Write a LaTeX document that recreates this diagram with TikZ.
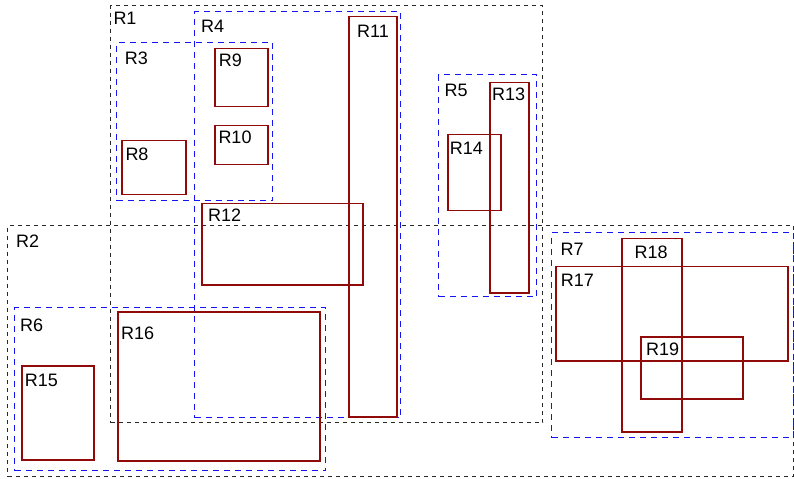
\documentclass[tikz,border=0pt]{standalone}
\usepackage{fontspec}
\setmainfont{Liberation Sans}
\definecolor{leafred}{RGB}{145,10,10}
\definecolor{grpgray}{RGB}{40,40,40}
\definecolor{subblue}{RGB}{20,20,245}
\newcommand{\myreg}[9]{%
  \node[#1,minimum width=#6bp,minimum height=#7bp] (#2) at (#4,#5) {};
  \node[lab] (#2lab) at (#8,#9) {#3};}
\begin{document}
\begin{tikzpicture}[x=1bp,y=-1bp,
  box/.style={draw,inner sep=0pt,outer sep=0pt,anchor=north west,line width=1.4bp},
  grp/.style={box,draw=grpgray,dash pattern=on 4bp off 4bp},
  sub/.style={box,draw=subblue,dash pattern=on 6bp off 5bp},
  leaf/.style={box,draw=leafred,line width=1.5bp},
  lab/.style={anchor=base west,inner sep=0pt,font=\fontsize{18bp}{21bp}\selectfont}]
\useasboundingbox (0,0) rectangle (794,479);
\myreg{grp}{r1}{R1}{110.75}{5.75}{432}{417}{113.3}{24.3}
\myreg{grp}{r2}{R2}{7.75}{225.75}{785.5}{251}{15.9}{247.7}
\myreg{sub}{r3}{R3}{116.75}{42.75}{156}{158}{124.6}{64.3}
\myreg{sub}{r4}{R4}{194.75}{11.75}{206}{406}{200.9}{32.3}
\myreg{sub}{r5}{R5}{438.75}{74.75}{98}{222}{444.3}{96.7}
\myreg{sub}{r6}{R6}{14.75}{307.75}{311}{163}{19.9}{331}
\myreg{sub}{r7}{R7}{551.75}{232.75}{241.5}{205}{560.3}{255.7}
\myreg{leaf}{r8}{R8}{121.75}{140.75}{64}{54}{125.3}{160.3}
\myreg{leaf}{r9}{R9}{214.75}{48.75}{53}{58}{218.6}{66.7}
\myreg{leaf}{r10}{R10}{214.75}{125.75}{53}{39}{218.3}{144}
\myreg{leaf}{r11}{R11}{348.75}{16.75}{48}{400}{356.9}{37.3}
\myreg{leaf}{r12}{R12}{201.75}{203.75}{161}{81}{207.9}{221.6}
\myreg{leaf}{r13}{R13}{489.75}{82.75}{39}{210}{491.9}{100.7}
\myreg{leaf}{r14}{R14}{447.75}{134.75}{53}{76}{449.6}{154.3}
\myreg{leaf}{r15}{R15}{21.75}{365.75}{72}{94}{24.6}{386.7}
\myreg{leaf}{r16}{R16}{117.75}{311.75}{202}{149}{120.9}{339}
\myreg{leaf}{r17}{R17}{555.75}{266.75}{232}{94}{560.6}{287}
\myreg{leaf}{r18}{R18}{621.75}{238.75}{60}{193}{634.3}{258.3}
\myreg{leaf}{r19}{R19}{640.75}{336.75}{102}{62}{645.9}{355.7}
\end{tikzpicture}
\end{document}
